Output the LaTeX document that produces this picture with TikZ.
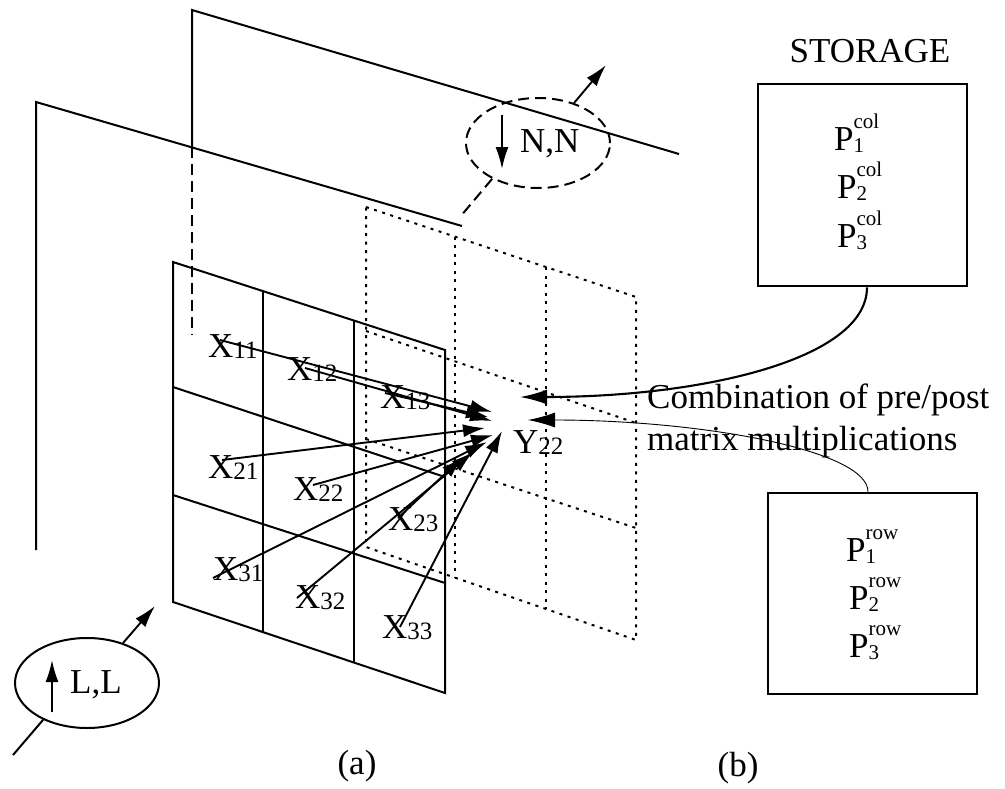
\documentclass[tikz,border=0pt]{standalone}
\usepackage{fontspec}
\setmainfont{Liberation Serif}
\usetikzlibrary{arrows.meta,shapes.geometric}
% index digits set on the baseline, a little smaller than the letter
\newcommand\subdig[1]{\raisebox{-1pt}{\fontsize{25}{25}\selectfont #1}}
% P with a lower index and an upper tag stacked after it
\newcommand\pcell[2]{P\makebox[0pt][l]{\raisebox{22pt}{\fontsize{21}{21}\selectfont #2}}\raisebox{-2.5pt}{\fontsize{21}{21}\selectfont #1}}
\begin{document}
\begin{tikzpicture}[x=1pt,y=-1pt,
  plane/.style={line width=2pt},
  hidden/.style={line width=2pt, dash pattern=on 11pt off 6pt},
  dots/.style={line width=2pt, dash pattern=on 3pt off 5.5pt},
  gridline/.style={line width=2pt},
  arr/.style={line width=1.9pt, -{Latex[length=22pt,width=13pt]}},
  bigarr/.style={line width=2.1pt, -{Latex[length=27pt,width=15pt]}},
  thinarr/.style={line width=0.9pt, -{Latex[length=27pt,width=15pt]}},
  lbl/.style={font=\fontsize{35}{35}\selectfont, inner sep=0pt},
  xl/.style={lbl, anchor=base west},
  box/.style={draw, line width=2.6pt, minimum width=209pt, inner sep=0pt},
  oval/.style={ellipse, draw, minimum width=144pt, minimum height=90pt, inner sep=0pt},
]
\useasboundingbox (0,0) rectangle (1005,788);

% the two image planes
\draw[plane] (36,550) -- (36,102) -- (462,226);
\draw[plane] (192,147) -- (192,10) -- (679,154);
\draw[hidden] (192,147) -- (192,335);

% output block (dotted 3x3 grid)
\draw[dots] (366,207) -- (636,297) -- (636,640) -- (366,547) -- cycle;
\draw[dots] (455,236.7) -- (455,577.6);
\draw[dots] (546,267) -- (546,609);
\draw[dots] (366,331) -- (636,423);
\draw[dots] (366,439) -- (636,528);

% input block (solid 3x3 grid)
\draw[gridline] (173,262) -- (445,350) -- (445,693) -- (173,602) -- cycle;
\draw[gridline] (263,291.1) -- (263,632.1);
\draw[gridline] (354,320.6) -- (354,662.6);
\draw[gridline] (173,387) -- (445,477);
\draw[gridline] (173,495) -- (445,583);

% N,N transform
\node[oval, hidden] (nn) at (538,143) {};
\node[lbl, anchor=base west] (nntext) at (520,152) {N,N};
\coordinate (nntop) at (502,115);
\coordinate (nnbot) at (502,169);
\draw[arr] (nntop) -- (nnbot);
\coordinate (nnout) at (606,65);
\draw[arr] (nn.48) -- (nnout);
\coordinate (nnlink) at (460,217);
\draw[hidden] (nn.218) -- (nnlink);

% L,L transform
\node[oval, plane] (ll) at (87,683) {};
\node[lbl, anchor=base west] (lltext) at (70,693) {L,L};
\coordinate (lllow) at (52,712);
\coordinate (llhigh) at (52,660);
\draw[arr] (lllow) -- (llhigh);
\coordinate (llin) at (13,755);
\draw[plane] (llin) -- (ll.220);
\coordinate (llout) at (155,606);
\draw[arr] (ll.48) -- (llout);

% input samples and the output sample
\node[xl] (x11) at (208,357) {X\subdig{11}};
\node[xl] (x12) at (287,380) {X\subdig{12}};
\node[xl] (x13) at (380,408) {X\subdig{13}};
\node[xl] (x21) at (208,478) {X\subdig{21}};
\node[xl] (x22) at (293,500) {X\subdig{22}};
\node[xl] (x23) at (388,530) {X\subdig{23}};
\node[xl] (x31) at (213,580) {X\subdig{31}};
\node[xl] (x32) at (295,608) {X\subdig{32}};
\node[xl] (x33) at (382,638) {X\subdig{33}};
\node[xl] (y22) at (513,453) {Y\subdig{22}};

% contributions of every input sample to Y22
\coordinate (s11) at (220,340); \coordinate (t11) at (492,412);
\coordinate (s12) at (305,368); \coordinate (t12) at (492,421);
\coordinate (s13) at (385,393); \coordinate (t13) at (488,417);
\coordinate (s21) at (222,460); \coordinate (t21) at (485,428);
\coordinate (s22) at (313,485); \coordinate (t22) at (493,435);
\coordinate (s23) at (398,518); \coordinate (t23) at (463,457);
\coordinate (s31) at (213,578); \coordinate (t31) at (487,442);
\coordinate (s32) at (297,598); \coordinate (t32) at (473,452);
\coordinate (s33) at (400,627); \coordinate (t33) at (502,431);
\foreach \k in {11,12,13,21,22,23,31,32,33}
  \draw[arr] (s\k) -- (t\k);

% storage of the column factors
\node[lbl, anchor=base] (storage) at (870,62) {STORAGE};
\node[box, minimum height=202pt] (colbox) at (862.5,185) {};
\node[lbl, anchor=base west] (pc1) at (834,150) {\pcell{1}{col}};
\node[lbl, anchor=base west] (pc2) at (837,198) {\pcell{2}{col}};
\node[lbl, anchor=base west] (pc3) at (837,247) {\pcell{3}{col}};

% row factors
\node[box, minimum height=201pt] (rowbox) at (872.5,593.5) {};
\node[lbl, anchor=base west] (pr1) at (846,561) {\pcell{1}{row}};
\node[lbl, anchor=base west] (pr2) at (849,609) {\pcell{2}{row}};
\node[lbl, anchor=base west] (pr3) at (849,657) {\pcell{3}{row}};

% combination of the two
\node[lbl, anchor=base west] (comb1) at (647,408) {Combination of pre/post};
\node[lbl, anchor=base west] (comb2) at (647,450) {matrix multiplications};
\coordinate (tcol) at (520,397);
\coordinate (trow) at (528,420);
\draw[bigarr] ([xshift=4.5pt]colbox.south) .. controls (867,360) and (700,397) .. (tcol);
\draw[thinarr] ([xshift=-4.5pt]rowbox.north) .. controls (868,450) and (700,420) .. (trow);

% panel captions
\node[lbl, anchor=base] (capa) at (357,774) {(a)};
\node[lbl, anchor=base] (capb) at (738,776) {(b)};
\end{tikzpicture}
\end{document}
